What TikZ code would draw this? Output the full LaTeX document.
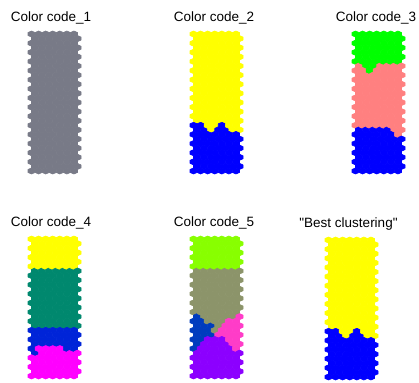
\documentclass[tikz,border=0pt]{standalone}
\usepackage{fontspec}
\newfontfamily\titlefont{Liberation Sans}
\definecolor{cslate}{RGB}{120,122,135}
\definecolor{cyellow}{RGB}{255,255,0}
\definecolor{cblue}{RGB}{0,0,255}
\definecolor{cgreen}{RGB}{0,255,0}
\definecolor{csalmon}{RGB}{255,128,128}
\definecolor{cteal}{RGB}{0,136,110}
\definecolor{cnavy}{RGB}{0,36,216}
\definecolor{cmagenta}{RGB}{255,0,255}
\definecolor{clime}{RGB}{136,255,0}
\definecolor{colive}{RGB}{140,148,106}
\definecolor{croyal}{RGB}{0,60,190}
\definecolor{cpink}{RGB}{255,60,200}
\definecolor{cviolet}{RGB}{140,0,255}
% one column of hexagons: map left, map top, column, first row, last row, colour
\newcommand{\hexrun}[6]{%
  \foreach \r in {#4,...,#5}{
    \pgfmathsetmacro{\hx}{#1+3.535+7.07*#3+3.535*mod(\r,2)}
    \pgfmathsetmacro{\hy}{#2+3.04+4.564*\r}
    \fill[#6, draw=#6, line width=0.6pt, line join=round] (\hx,\hy) +(0,-3.04) -- +(3.535,-1.52) -- +(3.535,1.52)
      -- +(0,3.04) -- +(-3.535,1.52) -- +(-3.535,-1.52) -- cycle;
  }}

\begin{document}
\begin{tikzpicture}[x=1pt, y=-1pt,
    maptitle/.style={font=\titlefont\fontsize{13.5}{16}\selectfont, anchor=base, inner sep=0pt}]
  \useasboundingbox (0,0) rectangle (419,382);
  \node[maptitle] (title1) at (51,21.5) {Color code\_1};
  \node[maptitle] (title2) at (214,21.5) {Color code\_2};
  \node[maptitle] (title3) at (376,21.5) {Color code\_3};
  \node[maptitle] (title4) at (51,226) {Color code\_4};
  \node[maptitle] (title5) at (214,226) {Color code\_5};
  \node[maptitle] (title6) at (348.5,227.5) {"Best clustering"};
  % Color code_1
  \foreach \c in {0,...,6}{
    \hexrun{28}{31}{\c}{0}{30}{cslate}
  }
  % Color code_2 and best clustering
  \foreach \c/\bs in {0/20,1/20,2/22,3/21,4/20,5/22,6/22}{
    \pgfmathtruncatemacro{\ye}{\bs-1}
    \hexrun{190}{31}{\c}{0}{\ye}{cyellow}
    \hexrun{190}{31}{\c}{\bs}{30}{cblue}
    \hexrun{325}{237}{\c}{0}{\ye}{cyellow}
    \hexrun{325}{237}{\c}{\bs}{30}{cblue}
  }
  % Color code_3
  \foreach \c/\gs/\ks in {0/7/21,1/8/21,2/9/21,3/7/21,4/7/21,5/7/22,6/7/23}{
    \pgfmathtruncatemacro{\gend}{\gs-1}
    \pgfmathtruncatemacro{\kend}{\ks-1}
    \hexrun{352}{31}{\c}{0}{\gend}{cgreen}
    \hexrun{352}{31}{\c}{\gs}{\kend}{csalmon}
    \hexrun{352}{31}{\c}{\ks}{30}{cblue}
  }
  % Color code_4
  \foreach \c/\ms in {0/26,1/24,2/24,3/24,4/24,5/25,6/25}{
    \pgfmathtruncatemacro{\mend}{\ms-1}
    \hexrun{28}{236}{\c}{0}{6}{cyellow}
    \hexrun{28}{236}{\c}{7}{19}{cteal}
    \hexrun{28}{236}{\c}{20}{\mend}{cnavy}
    \hexrun{28}{236}{\c}{\ms}{30}{cmagenta}
  }
  % Color code_5
  \foreach \c/\ra/\rb/\col in {
      0/0/6/clime, 0/7/16/colive, 0/17/24/croyal, 0/25/30/cviolet,
      1/0/6/clime, 1/7/17/colive, 1/18/22/croyal, 1/23/30/cviolet,
      2/0/6/clime, 2/7/18/colive, 2/19/21/croyal, 2/22/30/cviolet,
      3/0/6/clime, 3/7/20/colive, 3/21/21/cpink, 3/22/30/cviolet,
      4/0/6/clime, 4/7/18/colive, 4/19/21/cpink, 4/22/30/cviolet,
      5/0/6/clime, 5/7/17/colive, 5/18/23/cpink, 5/24/30/cviolet,
      6/0/6/clime, 6/7/16/colive, 6/17/24/cpink, 6/25/30/cviolet}{
    \hexrun{190}{236}{\c}{\ra}{\rb}{\col}
  }
\end{tikzpicture}
\end{document}
